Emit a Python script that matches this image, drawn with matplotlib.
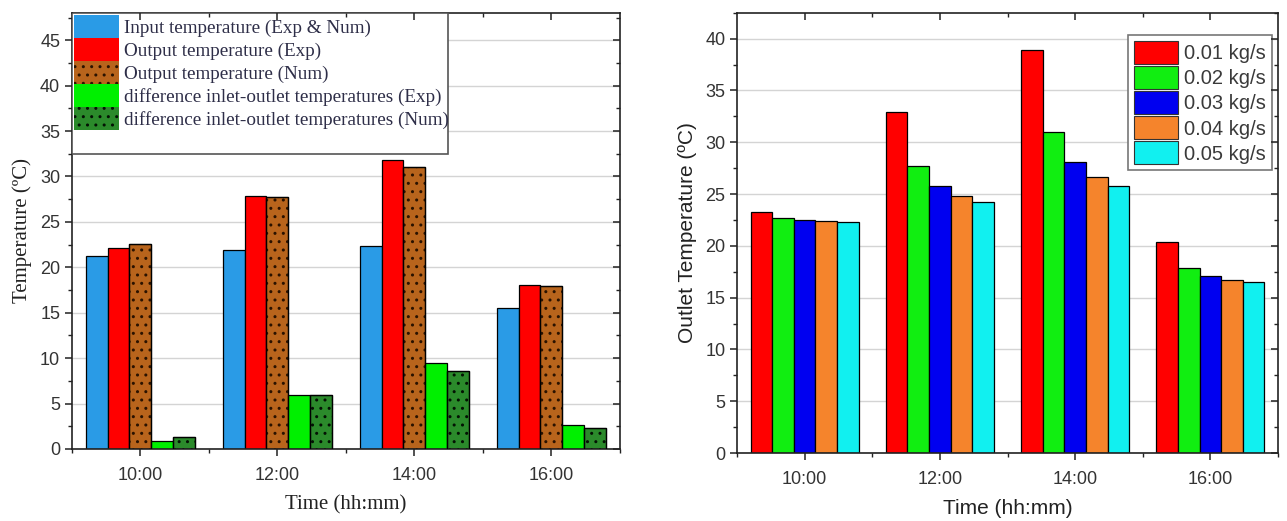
import matplotlib
matplotlib.use("Agg")
import matplotlib.pyplot as plt
import numpy as np
from matplotlib.patches import Rectangle, Patch
from matplotlib.ticker import MultipleLocator, FixedLocator

# ---------------- data ----------------
times = ['10:00', '12:00', '14:00', '16:00']

# left panel
input_temp = [21.3, 21.9, 22.3, 15.5]
out_exp = [22.1, 27.8, 31.8, 18.1]
out_num = [22.6, 27.7, 31.0, 17.9]
diff_exp = [0.85, 5.9, 9.45, 2.6]
diff_num = [1.3, 5.9, 8.6, 2.3]
left_labels = ['Input temperature (Exp & Num)',
               'Output temperature (Exp)',
               'Output temperature (Num)',
               'difference inlet-outlet temperatures (Exp)',
               'difference inlet-outlet temperatures (Num)']

# right panel
flow_labels = ['0.01 kg/s', '0.02 kg/s', '0.03 kg/s', '0.04 kg/s', '0.05 kg/s']
m001 = [23.3, 32.9, 38.9, 20.4]
m002 = [22.7, 27.7, 31.0, 17.9]
m003 = [22.45, 25.8, 28.05, 17.1]
m004 = [22.35, 24.85, 26.6, 16.7]
m005 = [22.3, 24.25, 25.8, 16.5]

# ---------------- style ----------------
SANS = ['Liberation Sans', 'DejaVu Sans']
SERIF = ['Liberation Serif', 'DejaVu Serif']
plt.rcParams['font.family'] = SANS
TICKC = '#333333'
SPINEC = '#222222'
GRIDC = '#d4d4d4'

fig = plt.figure(figsize=(12.87, 5.21), dpi=100)
axL = fig.add_axes([0.0559, 0.1382, 0.4258, 0.8369])
axR = fig.add_axes([0.5727, 0.1305, 0.4203, 0.8450])

x = np.arange(len(times))
bw = 0.16


def style_axes(ax, ymax, ymajor):
    ax.set_xlim(-0.5, 3.5)
    ax.set_ylim(0, ymax)
    ax.yaxis.set_major_locator(MultipleLocator(ymajor))
    ax.yaxis.set_minor_locator(MultipleLocator(ymajor / 2))
    ax.set_xticks(x)
    ax.set_xticklabels(times)
    ax.xaxis.set_minor_locator(FixedLocator([0.5, 1.5, 2.5, 3.5, -0.5]))
    ax.grid(axis='y', which='major', color=GRIDC, lw=1.0, zorder=0)
    ax.set_axisbelow(True)
    for s in ax.spines.values():
        s.set_color(SPINEC)
        s.set_linewidth(1.2)
    ax.tick_params(axis='both', which='both', direction='out', colors=SPINEC,
                   labelcolor=TICKC, labelsize=13, top=False, right=False)
    ax.tick_params(which='major', length=5, width=1.1)
    ax.tick_params(which='minor', length=3, width=1.0)
    ax.tick_params(axis='x', pad=8)
    # mirrored inward ticks on right and top
    tx = ax.twinx()
    tx.set_ylim(0, ymax)
    tx.yaxis.set_major_locator(MultipleLocator(ymajor))
    tx.yaxis.set_minor_locator(MultipleLocator(ymajor / 2))
    tx.tick_params(axis='y', which='both', direction='in', labelright=False, colors=SPINEC)
    tx.tick_params(which='major', length=5, width=1.1)
    tx.tick_params(which='minor', length=3, width=1.0)
    ty = ax.twiny()
    ty.set_xlim(-0.5, 3.5)
    ty.set_xticks(x)
    ty.xaxis.set_minor_locator(FixedLocator([0.5, 1.5, 2.5]))
    ty.tick_params(axis='x', which='both', direction='in', labeltop=False, colors=SPINEC)
    ty.tick_params(which='major', length=5, width=1.1)
    ty.tick_params(which='minor', length=3, width=1.0)
    for t in (tx, ty):
        for s in t.spines.values():
            s.set_visible(False)


style_axes(axL, 48, 5)
style_axes(axR, 42.5, 5)

# ---------------- left panel ----------------
C_BLUE = '#2a9be6'
C_RED = '#ff0000'
C_BROWN = '#b8641c'
C_GREEN = '#00f000'
C_DGREEN = '#2b8a2b'

left_series = [input_temp, out_exp, out_num, diff_exp, diff_num]
left_face = [C_BLUE, C_RED, C_BROWN, C_GREEN, C_DGREEN]
left_hatch = [None, None, '..', None, '..']
left_hcol = [None, None, '#2a1200', None, '#031203']

plt.rcParams['hatch.linewidth'] = 1.0
offs = (np.arange(5) - 2) * bw
for vals, fc, h, hc, off in zip(left_series, left_face, left_hatch, left_hcol, offs):
    axL.bar(x + off, vals, bw, color=fc, edgecolor='black', linewidth=0.9, zorder=2)
    if h:
        axL.bar(x + off, vals, bw, facecolor='none', edgecolor=hc, hatch=h,
                linewidth=0, zorder=3)
        axL.bar(x + off, vals, bw, facecolor='none', edgecolor='black',
                linewidth=0.9, zorder=4)

axL.set_ylabel('Temperature (ºC)', family=SERIF, fontsize=15, color='#222222', labelpad=6)
axL.set_xlabel('Time (hh:mm)', family=SERIF, fontsize=15, color='#222222', labelpad=8)

# legend box (frame drawn separately, larger than entries)
axL.add_patch(Rectangle((0, 0.677), 0.686, 0.323, transform=axL.transAxes,
                        facecolor='white', edgecolor='#555555', lw=1.2, zorder=5))
handlesL = []
for fc, h, hc in zip(left_face, left_hatch, left_hcol):
    if h:
        handlesL.append(Patch(facecolor=fc, edgecolor=hc, hatch=h, linewidth=0))
    else:
        handlesL.append(Patch(facecolor=fc, edgecolor=fc, linewidth=0))
legL = axL.legend(handlesL, left_labels, loc='upper left', bbox_to_anchor=(0.003, 0.995),
                  frameon=False, prop={'family': SERIF, 'size': 13.8},
                  handlelength=2.35, handleheight=1.47, labelspacing=0.0,
                  handletextpad=0.3, borderpad=0.0, borderaxespad=0.0)
legL.set_zorder(6)
for t in legL.get_texts():
    t.set_color('#2e2e48')

# ---------------- right panel ----------------
right_series = [m001, m002, m003, m004, m005]
right_face = ['#ff0000', '#11ee11', '#0000f0', '#f5842c', '#11f0f0']
for vals, fc, off in zip(right_series, right_face, offs):
    axR.bar(x + off, vals, bw, color=fc, edgecolor='black', linewidth=0.9, zorder=2)

axR.set_ylabel('Outlet Temperature (ºC)', fontsize=15, color='#222222', labelpad=6)
axR.set_xlabel('Time (hh:mm)', fontsize=15, color='#222222', labelpad=8)

handlesR = [Patch(facecolor=fc, edgecolor='#333333', linewidth=0.8) for fc in right_face]
legR = axR.legend(handlesR, flow_labels, loc='upper right', bbox_to_anchor=(0.989, 0.949),
                  fontsize=14.5, handlelength=2.2, handleheight=1.38, labelspacing=0.1,
                  handletextpad=0.3, borderpad=0.3, borderaxespad=0.0,
                  fancybox=False, framealpha=1, edgecolor='#777777')
legR.get_frame().set_linewidth(1.2)
for t in legR.get_texts():
    t.set_color('#3a3a3a')

fig.savefig('out.png', dpi=100)
